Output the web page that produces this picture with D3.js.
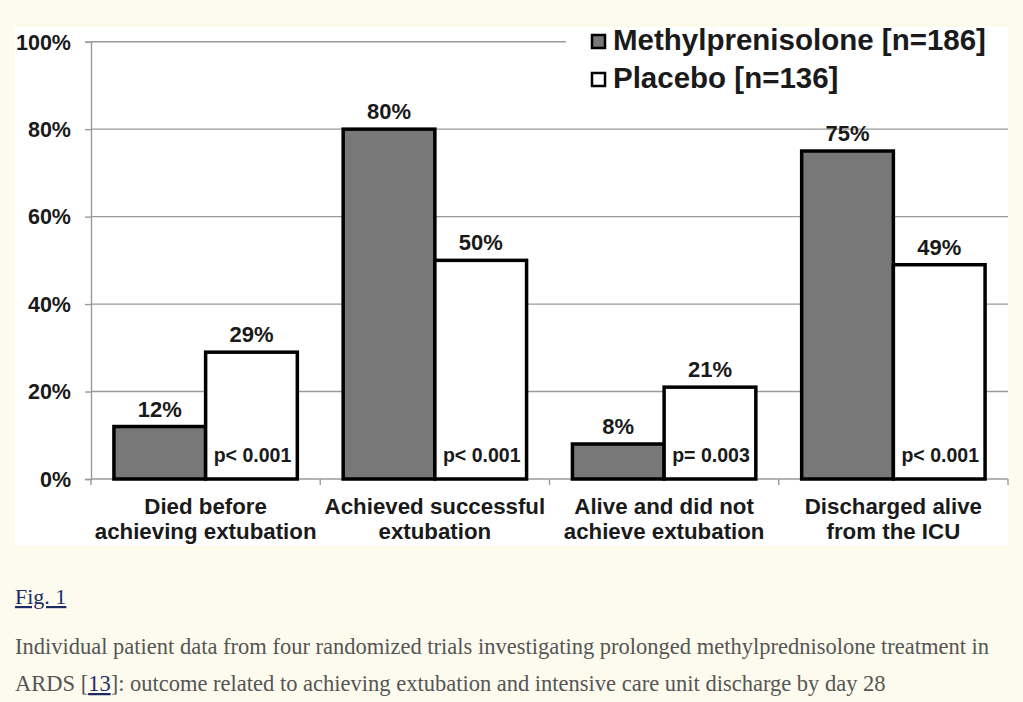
<!DOCTYPE html>
<html>
<head>
<meta charset="utf-8">
<script src="https://cdn.jsdelivr.net/npm/d3@7"></script>
<style>
  html, body { margin: 0; padding: 0; background: #fdfbee; }
  svg { display: block; }
</style>
</head>
<body>
<svg id="chart" width="1023" height="702"></svg>
<script>
const categories = [
  ["Died before", "achieving extubation"],
  ["Achieved successful", "extubation"],
  ["Alive and did not", "achieve extubation"],
  ["Discharged alive", "from the ICU"]
];
const seriesNames = ["Methylprenisolone [n=186]", "Placebo [n=136]"];
const methylValues = [12, 80, 8, 75];
const placeboValues = [29, 50, 21, 49];
const pValues = ["p< 0.001", "p< 0.001", "p= 0.003", "p< 0.001"];
const yTicks = [0, 20, 40, 60, 80, 100];
const seriesColors = ["#787878", "#ffffff"];

const svg = d3.select("#chart");
const font = "Arial, 'Liberation Sans', sans-serif";
const serif = "'Times New Roman', 'Liberation Serif', serif";

// white chart panel
svg.append("rect").attr("x", 15).attr("y", 27).attr("width", 993).attr("height", 518).attr("fill", "#ffffff");

const plot = { left: 91, right: 1008, top: 41.7, bottom: 479 };
const idx = d3.range(categories.length);
const x = d3.scaleBand().domain(idx).range([plot.left, plot.right]).paddingInner(0.2).paddingOuter(0.1);
const xs = d3.scaleBand().domain([0, 1]).range([0, x.bandwidth()]);
const y = d3.scaleLinear().domain([0, 100]).range([plot.bottom, plot.top]);

// gridlines
svg.append("g").selectAll("line").data(yTicks.filter(d => d > 0)).join("line")
  .attr("x1", plot.left).attr("x2", plot.right)
  .attr("y1", d => y(d)).attr("y2", d => y(d))
  .attr("stroke", "#9a9a9a").attr("stroke-width", 1.4);

// y axis
const yAxis = svg.append("g").attr("transform", `translate(${plot.left},0)`)
  .call(d3.axisLeft(y).tickValues(yTicks).tickFormat(d => d + "%").tickSize(6).tickPadding(14));
yAxis.select(".domain").attr("stroke", "#9a9a9a").attr("stroke-width", 1.4);
yAxis.selectAll(".tick line").attr("stroke", "#9a9a9a").attr("stroke-width", 1.4);
yAxis.selectAll(".tick text").attr("font-family", font).attr("font-weight", "bold")
  .attr("font-size", 21.5).attr("fill", "#1a1a1a").attr("dy", "0.34em");

// x axis line and boundary ticks
const step = x.step();
const boundaries = d3.range(categories.length + 1).map(i => plot.left + i * step);
svg.append("line").attr("x1", plot.left).attr("x2", plot.right)
  .attr("y1", y(0)).attr("y2", y(0)).attr("stroke", "#9a9a9a").attr("stroke-width", 1.4);
svg.append("g").selectAll("line").data(boundaries).join("line")
  .attr("x1", d => d).attr("x2", d => d).attr("y1", y(0)).attr("y2", y(0) + 6)
  .attr("stroke", "#9a9a9a").attr("stroke-width", 1.4);

// bars
const series = [methylValues, placeboValues];
const groups = svg.append("g").selectAll("g").data(idx).join("g")
  .attr("transform", i => `translate(${x(i)},0)`);
groups.selectAll("rect").data(i => series.map((s, k) => ({ k, v: s[i] }))).join("rect")
  .attr("x", d => xs(d.k)).attr("width", xs.bandwidth())
  .attr("y", d => y(d.v)).attr("height", d => y(0) - y(d.v))
  .attr("fill", d => seriesColors[d.k]).attr("stroke", "#000").attr("stroke-width", 3.5);

// value labels
groups.selectAll("text.val").data(i => series.map((s, k) => ({ k, v: s[i] }))).join("text")
  .attr("class", "val")
  .attr("x", d => xs(d.k) + xs.bandwidth() / 2).attr("y", d => y(d.v) - 10)
  .attr("text-anchor", "middle").attr("font-family", font).attr("font-weight", "bold")
  .attr("font-size", 22).attr("fill", "#1a1a1a").text(d => d.v + "%");

// p values inside placebo bars
groups.append("text")
  .attr("x", xs(1) + xs.bandwidth() / 2 + 1).attr("y", y(0) - 17)
  .attr("text-anchor", "middle").attr("font-family", font).attr("font-weight", "bold")
  .attr("font-size", 19.5).attr("fill", "#1a1a1a").text(i => pValues[i]);

// category labels
groups.append("text")
  .attr("x", x.bandwidth() / 2).attr("y", 514)
  .attr("text-anchor", "middle").attr("font-family", font).attr("font-weight", "bold")
  .attr("font-size", 22.3).attr("fill", "#1a1a1a")
  .selectAll("tspan").data(i => categories[i]).join("tspan")
  .attr("x", x.bandwidth() / 2).attr("dy", (d, j) => j === 0 ? 0 : 25).text(d => d);

// legend
svg.append("rect").attr("x", 566).attr("y", 27).attr("width", 442).attr("height", 72).attr("fill", "#fff");
const leg = svg.append("g").selectAll("g").data(seriesNames).join("g")
  .attr("transform", (d, k) => `translate(591,${34 + k * 38})`);
leg.append("rect").attr("x", 1).attr("y", 1).attr("width", 13).attr("height", 13)
  .attr("fill", (d, k) => seriesColors[k]).attr("stroke", "#000").attr("stroke-width", 2.5);
leg.append("text").attr("x", 22).attr("y", 16).attr("font-family", font).attr("font-weight", "bold")
  .attr("font-size", 29.5).attr("fill", "#1a1a1a").text(d => d);

// caption
svg.append("text").attr("x", 15).attr("y", 604).attr("font-family", serif).attr("font-size", 22)
  .attr("fill", "#1c2b66").attr("text-decoration", "underline").text("Fig. 1");
svg.append("text").attr("x", 15).attr("y", 654).attr("font-family", serif).attr("font-size", 22.5)
  .attr("fill", "#555").text("Individual patient data from four randomized trials investigating prolonged methylprednisolone treatment in");
const cap2 = svg.append("text").attr("x", 15).attr("y", 691).attr("font-family", serif).attr("font-size", 22.5).attr("fill", "#555");
cap2.append("tspan").text("ARDS [");
cap2.append("tspan").attr("fill", "#1c2b66").attr("text-decoration", "underline").text("13");
cap2.append("tspan").text("]: outcome related to achieving extubation and intensive care unit discharge by day 28");
</script>
</body>
</html>
